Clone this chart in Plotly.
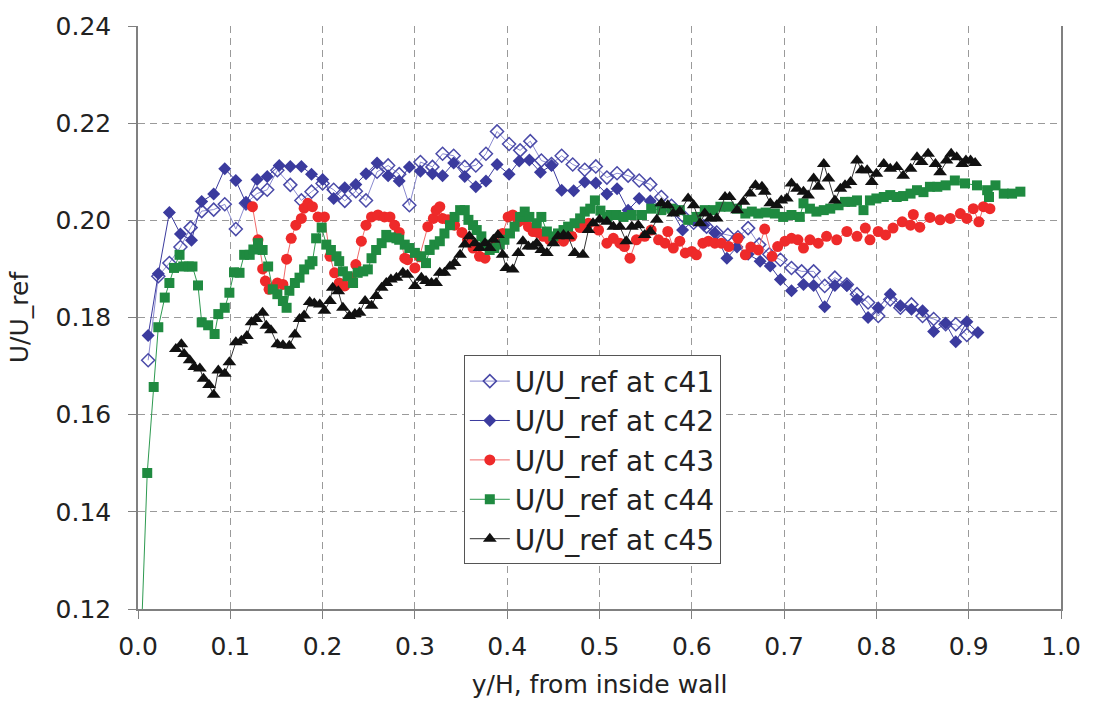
import plotly.graph_objects as go

# ---------------- data ----------------
x41 = [0.011, 0.022, 0.034, 0.046, 0.057, 0.069, 0.082, 0.094, 0.106, 0.117, 0.129, 0.140, 0.151,
       0.165, 0.177, 0.188, 0.200, 0.212, 0.224, 0.236, 0.247, 0.259, 0.271, 0.283, 0.294, 0.306,
       0.319, 0.330, 0.342, 0.354, 0.366, 0.377, 0.389, 0.402, 0.414, 0.425, 0.437, 0.448, 0.459,
       0.471, 0.484, 0.496, 0.508, 0.519, 0.531, 0.543, 0.555, 0.567, 0.578, 0.590, 0.602, 0.616,
       0.627, 0.639, 0.650, 0.661, 0.673, 0.684, 0.696, 0.708, 0.719, 0.732, 0.744, 0.755, 0.768,
       0.779, 0.791, 0.802, 0.815, 0.826, 0.838, 0.850, 0.862, 0.875, 0.886, 0.898]
y41 = [0.1712, 0.1885, 0.1912, 0.1945, 0.1985, 0.2019, 0.2022, 0.2033, 0.1982, 0.2035, 0.2055, 0.2063, 0.2103,
       0.2073, 0.2041, 0.2059, 0.2076, 0.2063, 0.2040, 0.2060, 0.2041, 0.2100, 0.2113, 0.2095, 0.2031, 0.2120,
       0.2110, 0.2137, 0.2133, 0.2110, 0.2113, 0.2137, 0.2183, 0.2157, 0.2144, 0.2163, 0.2123, 0.2116, 0.2133,
       0.2115, 0.2104, 0.2111, 0.2088, 0.2097, 0.2092, 0.2082, 0.2074, 0.2048, 0.2030, 0.2010, 0.1995, 0.1987,
       0.1975, 0.1970, 0.1965, 0.1984, 0.1950, 0.1930, 0.1919, 0.1902, 0.1895, 0.1895, 0.1865, 0.1882, 0.1868,
       0.1848, 0.1831, 0.1803, 0.1837, 0.1820, 0.1827, 0.1803, 0.1797, 0.1786, 0.1786, 0.1764]

x42 = [0.011, 0.022, 0.034, 0.046, 0.058, 0.069, 0.082, 0.094, 0.106, 0.117, 0.129, 0.140, 0.153,
       0.165, 0.177, 0.188, 0.200, 0.212, 0.224, 0.236, 0.247, 0.259, 0.271, 0.283, 0.294, 0.306,
       0.319, 0.330, 0.342, 0.354, 0.366, 0.377, 0.389, 0.402, 0.413, 0.424, 0.436, 0.448, 0.459,
       0.472, 0.484, 0.496, 0.508, 0.519, 0.531, 0.543, 0.555, 0.567, 0.578, 0.590, 0.602, 0.613,
       0.625, 0.638, 0.649, 0.661, 0.674, 0.685, 0.696, 0.708, 0.721, 0.732, 0.744, 0.755, 0.768,
       0.779, 0.791, 0.802, 0.815, 0.826, 0.838, 0.850, 0.862, 0.875, 0.886, 0.898, 0.910]
y42 = [0.1763, 0.1890, 0.2016, 0.1972, 0.1959, 0.2039, 0.2054, 0.2106, 0.2082, 0.2036, 0.2084, 0.2090, 0.2113,
       0.2111, 0.2111, 0.2095, 0.2084, 0.2045, 0.2067, 0.2074, 0.2096, 0.2118, 0.2092, 0.2081, 0.2110, 0.2101,
       0.2096, 0.2092, 0.2118, 0.2090, 0.2069, 0.2081, 0.2115, 0.2095, 0.2122, 0.2124, 0.2099, 0.2113, 0.2062,
       0.2061, 0.2079, 0.2077, 0.2054, 0.2065, 0.2021, 0.2045, 0.2040, 0.2031, 0.2021, 0.1980, 0.2000, 0.1990,
       0.1974, 0.1922, 0.1945, 0.1930, 0.1916, 0.1906, 0.1878, 0.1855, 0.1868, 0.1866, 0.1822, 0.1866, 0.1866,
       0.1837, 0.1800, 0.1820, 0.1848, 0.1824, 0.1817, 0.1814, 0.1771, 0.1788, 0.1750, 0.1791, 0.1769]

x43 = [0.124, 0.130, 0.135, 0.138, 0.142, 0.147, 0.151, 0.157, 0.161, 0.166, 0.171, 0.177, 0.180,
       0.184, 0.189, 0.195, 0.202, 0.208, 0.213, 0.218, 0.224, 0.231, 0.236, 0.242, 0.247, 0.253,
       0.260, 0.267, 0.273, 0.278, 0.283, 0.289, 0.292, 0.300, 0.305, 0.314, 0.320, 0.323, 0.327,
       0.330, 0.336, 0.343, 0.351, 0.357, 0.363, 0.370, 0.376, 0.381, 0.388, 0.395, 0.401, 0.406,
       0.412, 0.417, 0.423, 0.428, 0.433, 0.439, 0.446, 0.453, 0.461, 0.470, 0.479, 0.488, 0.499,
       0.508, 0.515, 0.522, 0.527, 0.533, 0.540, 0.549, 0.556, 0.564, 0.571, 0.574, 0.580, 0.587,
       0.593, 0.600, 0.605, 0.612, 0.618, 0.625, 0.632, 0.640, 0.650, 0.658, 0.664, 0.672, 0.679,
       0.687, 0.693, 0.701, 0.708, 0.715, 0.721, 0.728, 0.737, 0.746, 0.757, 0.768, 0.779, 0.788,
       0.793, 0.802, 0.810, 0.818, 0.828, 0.837, 0.840, 0.847, 0.858, 0.869, 0.880, 0.891, 0.898,
       0.905, 0.911, 0.916, 0.923]
y43 = [0.2028, 0.1960, 0.1900, 0.1875, 0.1858, 0.1862, 0.1871, 0.1868, 0.1920, 0.1963, 0.1990, 0.2004, 0.2025,
       0.2035, 0.2028, 0.2007, 0.2007, 0.1926, 0.1892, 0.1871, 0.1865, 0.1882, 0.1909, 0.1957, 0.1990, 0.2007,
       0.2011, 0.2007, 0.2007, 0.1990, 0.1975, 0.1922, 0.1919, 0.1902, 0.1925, 0.1987, 0.2004, 0.2021, 0.2028,
       0.2004, 0.2001, 0.1990, 0.1975, 0.1960, 0.1943, 0.1926, 0.1922, 0.1943, 0.1953, 0.1973, 0.2007, 0.2011,
       0.1997, 0.2001, 0.1987, 0.1977, 0.1975, 0.1967, 0.1960, 0.1963, 0.1957, 0.1967, 0.1985, 0.1994, 0.1980,
       0.1953, 0.1963, 0.1953, 0.1946, 0.1922, 0.1960, 0.1967, 0.1980, 0.1960, 0.1953, 0.1977, 0.1943, 0.1957,
       0.1933, 0.1936, 0.1929, 0.1953, 0.1957, 0.1953, 0.1953, 0.1946, 0.1963, 0.1929, 0.1945, 0.1939, 0.1982,
       0.1926, 0.1946, 0.1957, 0.1963, 0.1960, 0.1943, 0.1960, 0.1953, 0.1967, 0.1960, 0.1977, 0.1967, 0.1984,
       0.1960, 0.1977, 0.1970, 0.1984, 0.1997, 0.1990, 0.2012, 0.1986, 0.2006, 0.2001, 0.2004, 0.2014, 0.2004,
       0.2024, 0.1997, 0.2028, 0.2024]

x44 = [0.002, 0.010, 0.017, 0.022, 0.029, 0.034, 0.039, 0.045, 0.049, 0.055, 0.059, 0.065, 0.069,
       0.076, 0.083, 0.087, 0.094, 0.099, 0.104, 0.110, 0.115, 0.121, 0.125, 0.130, 0.135, 0.141,
       0.146, 0.151, 0.157, 0.161, 0.164, 0.170, 0.175, 0.180, 0.186, 0.189, 0.193, 0.199, 0.204,
       0.209, 0.215, 0.218, 0.222, 0.227, 0.233, 0.238, 0.244, 0.249, 0.253, 0.258, 0.264, 0.269,
       0.274, 0.280, 0.283, 0.289, 0.294, 0.300, 0.307, 0.312, 0.316, 0.321, 0.327, 0.332, 0.338,
       0.343, 0.349, 0.354, 0.358, 0.363, 0.367, 0.372, 0.376, 0.381, 0.386, 0.392, 0.397, 0.403,
       0.408, 0.414, 0.419, 0.424, 0.432, 0.437, 0.443, 0.450, 0.455, 0.461, 0.466, 0.473, 0.479,
       0.484, 0.490, 0.495, 0.501, 0.508, 0.512, 0.518, 0.526, 0.535, 0.546, 0.556, 0.567, 0.578,
       0.587, 0.596, 0.605, 0.614, 0.623, 0.631, 0.640, 0.649, 0.658, 0.665, 0.672, 0.680, 0.690,
       0.699, 0.708, 0.717, 0.721, 0.728, 0.735, 0.743, 0.750, 0.759, 0.766, 0.773, 0.779, 0.786,
       0.793, 0.800, 0.808, 0.815, 0.822, 0.829, 0.837, 0.844, 0.851, 0.858, 0.866, 0.875, 0.885,
       0.896, 0.909, 0.920, 0.922, 0.929, 0.938, 0.947, 0.956]
y44 = [0.1060, 0.1480, 0.1657, 0.1780, 0.1841, 0.1871, 0.1902, 0.1929, 0.1905, 0.1905, 0.1905, 0.1866, 0.1790,
       0.1784, 0.1766, 0.1807, 0.1820, 0.1851, 0.1893, 0.1892, 0.1929, 0.1929, 0.1940, 0.1953, 0.1939, 0.1905,
       0.1858, 0.1848, 0.1834, 0.1820, 0.1855, 0.1871, 0.1882, 0.1899, 0.1909, 0.1916, 0.1963, 0.1985, 0.1950,
       0.1939, 0.1926, 0.1916, 0.1895, 0.1885, 0.1871, 0.1892, 0.1895, 0.1899, 0.1922, 0.1939, 0.1953, 0.1970,
       0.1965, 0.1963, 0.1960, 0.1950, 0.1943, 0.1933, 0.1926, 0.1912, 0.1939, 0.1950, 0.1957, 0.1973, 0.1990,
       0.2007, 0.2021, 0.2021, 0.2001, 0.1990, 0.1980, 0.1967, 0.1950, 0.1939, 0.1943, 0.1950, 0.1960, 0.1973,
       0.1987, 0.2007, 0.2018, 0.2007, 0.1994, 0.2007, 0.1977, 0.1967, 0.1973, 0.1980, 0.1987, 0.1994, 0.2004,
       0.2018, 0.2024, 0.2041, 0.2020, 0.2007, 0.2011, 0.2011, 0.2007, 0.2011, 0.2011, 0.2024, 0.2021, 0.2024,
       0.2021, 0.2001, 0.2007, 0.2021, 0.2021, 0.2028, 0.2028, 0.2024, 0.2014, 0.2018, 0.2014, 0.2016, 0.2014,
       0.2007, 0.2011, 0.2007, 0.2035, 0.2024, 0.2018, 0.2021, 0.2024, 0.2031, 0.2038, 0.2038, 0.2041, 0.2021,
       0.2041, 0.2045, 0.2048, 0.2052, 0.2048, 0.2050, 0.2055, 0.2062, 0.2058, 0.2069, 0.2069, 0.2072, 0.2082,
       0.2076, 0.2072, 0.2062, 0.2048, 0.2072, 0.2055, 0.2055, 0.2059]

x45 = [0.041, 0.047, 0.050, 0.056, 0.061, 0.067, 0.071, 0.077, 0.082, 0.087, 0.094, 0.099, 0.106,
       0.112, 0.118, 0.123, 0.128, 0.135, 0.139, 0.144, 0.151, 0.157, 0.164, 0.170, 0.175, 0.180,
       0.186, 0.191, 0.197, 0.202, 0.208, 0.211, 0.217, 0.222, 0.229, 0.235, 0.240, 0.246, 0.253,
       0.258, 0.264, 0.269, 0.274, 0.280, 0.287, 0.292, 0.300, 0.307, 0.312, 0.318, 0.323, 0.327,
       0.332, 0.338, 0.343, 0.349, 0.354, 0.359, 0.365, 0.370, 0.376, 0.381, 0.385, 0.390, 0.395,
       0.399, 0.406, 0.412, 0.417, 0.423, 0.428, 0.432, 0.437, 0.443, 0.450, 0.455, 0.461, 0.466,
       0.473, 0.482, 0.488, 0.493, 0.500, 0.508, 0.515, 0.522, 0.529, 0.535, 0.542, 0.549, 0.555,
       0.562, 0.567, 0.574, 0.580, 0.587, 0.596, 0.602, 0.609, 0.614, 0.620, 0.627, 0.636, 0.641,
       0.649, 0.656, 0.663, 0.669, 0.676, 0.679, 0.685, 0.692, 0.697, 0.703, 0.708, 0.714, 0.721,
       0.726, 0.732, 0.737, 0.743, 0.748, 0.755, 0.761, 0.766, 0.772, 0.779, 0.784, 0.790, 0.795,
       0.800, 0.808, 0.815, 0.822, 0.829, 0.837, 0.844, 0.849, 0.856, 0.864, 0.869, 0.876, 0.881,
       0.887, 0.893, 0.897, 0.902, 0.907]
y45 = [0.1735, 0.1745, 0.1725, 0.1712, 0.1698, 0.1695, 0.1674, 0.1661, 0.1641, 0.1691, 0.1684, 0.1708, 0.1749,
       0.1752, 0.1762, 0.1790, 0.1797, 0.1810, 0.1783, 0.1774, 0.1745, 0.1743, 0.1742, 0.1765, 0.1797, 0.1804,
       0.1832, 0.1829, 0.1827, 0.1814, 0.1834, 0.1861, 0.1854, 0.1820, 0.1803, 0.1807, 0.1810, 0.1834, 0.1824,
       0.1844, 0.1861, 0.1871, 0.1878, 0.1882, 0.1892, 0.1888, 0.1865, 0.1882, 0.1875, 0.1871, 0.1871, 0.1892,
       0.1892, 0.1905, 0.1912, 0.1929, 0.1950, 0.1967, 0.1953, 0.1943, 0.1953, 0.1943, 0.1960, 0.1970, 0.1929,
       0.1902, 0.1899, 0.1933, 0.1957, 0.1946, 0.1946, 0.1953, 0.1939, 0.1933, 0.1953, 0.1967, 0.1970, 0.1967,
       0.1933, 0.1929, 0.1980, 0.1994, 0.2001, 0.1997, 0.1987, 0.1987, 0.1957, 0.1987, 0.1990, 0.1970, 0.1977,
       0.2001, 0.2035, 0.2031, 0.2014, 0.2018, 0.2045, 0.2031, 0.1994, 0.2014, 0.2004, 0.2004, 0.2048, 0.2048,
       0.2021, 0.2038, 0.2055, 0.2072, 0.2069, 0.2059, 0.2035, 0.2031, 0.2041, 0.2045, 0.2076, 0.2065, 0.2059,
       0.2051, 0.2086, 0.2069, 0.2116, 0.2086, 0.2041, 0.2065, 0.2072, 0.2079, 0.2123, 0.2103, 0.2103, 0.2079,
       0.2096, 0.2116, 0.2106, 0.2110, 0.2092, 0.2106, 0.2130, 0.2120, 0.2137, 0.2116, 0.2099, 0.2123, 0.2137,
       0.2130, 0.2116, 0.2123, 0.2123, 0.2118]

names = ["U/U_ref at c41", "U/U_ref at c42", "U/U_ref at c43", "U/U_ref at c44", "U/U_ref at c45"]
x_ticks = [0.0, 0.1, 0.2, 0.3, 0.4, 0.5, 0.6, 0.7, 0.8, 0.9, 1.0]
y_ticks = [0.12, 0.14, 0.16, 0.18, 0.20, 0.22, 0.24]

FONT = "DejaVu Sans"

fig = go.Figure()

fig.add_trace(go.Scatter(
    x=x41, y=y41, name=names[0], mode="lines+markers",
    line=dict(color="#8a8ad0", width=1),
    marker=dict(symbol="diamond-open", size=10, color="#4a4aa8", line=dict(width=1.5, color="#4a4aa8"))))
fig.add_trace(go.Scatter(
    x=x42, y=y42, name=names[1], mode="lines+markers",
    line=dict(color="#3b3b9e", width=1),
    marker=dict(symbol="diamond", size=10, color="#3b3b9e")))
fig.add_trace(go.Scatter(
    x=x43, y=y43, name=names[2], mode="lines+markers",
    line=dict(color="#f06a6a", width=1),
    marker=dict(symbol="circle", size=11, color="#ee2a2a")))
fig.add_trace(go.Scatter(
    x=x44, y=y44, name=names[3], mode="lines+markers",
    line=dict(color="#2e9a50", width=1),
    marker=dict(symbol="square", size=10, color="#1f8a40")))
fig.add_trace(go.Scatter(
    x=x45, y=y45, name=names[4], mode="lines+markers",
    line=dict(color="#333333", width=1),
    marker=dict(symbol="triangle-up", size=12, color="#111111")))

axis_common = dict(
    showgrid=True, gridcolor="#9a9a9a", gridwidth=1, griddash="7px,5px",
    showline=True, linecolor="#808080", linewidth=1.5,
    ticks="outside", ticklen=8, tickcolor="#808080", tickwidth=1,
    tickfont=dict(family=FONT, size=25, color="#222222"),
    zeroline=False,
)

fig.update_layout(
    width=1093, height=715,
    margin=dict(l=138, r=31, t=21, b=106),
    paper_bgcolor="white", plot_bgcolor="white",
    font=dict(family=FONT, color="#222222"),
    xaxis=dict(range=[0, 1.0], tickvals=x_ticks, ticktext=[f"{v:.1f}" for v in x_ticks],
               title=dict(text="y/H, from inside wall", font=dict(family=FONT, size=25), standoff=16),
               ticklabelstandoff=6, **axis_common),
    yaxis=dict(range=[0.12, 0.24], tickvals=y_ticks, ticktext=[f"{v:.2f}" for v in y_ticks],
               title=dict(text="U/U_ref", font=dict(family=FONT, size=25), standoff=20),
               ticklabelstandoff=12, mirror=True, **axis_common),
    legend=dict(x=0.353, y=0.435, xanchor="left", yanchor="top",
                bgcolor="white", bordercolor="#555555", borderwidth=1,
                font=dict(family=FONT, size=28, color="#222222"),
                tracegroupgap=0, itemwidth=40),
    showlegend=True,
)

fig.write_html("out.html")
